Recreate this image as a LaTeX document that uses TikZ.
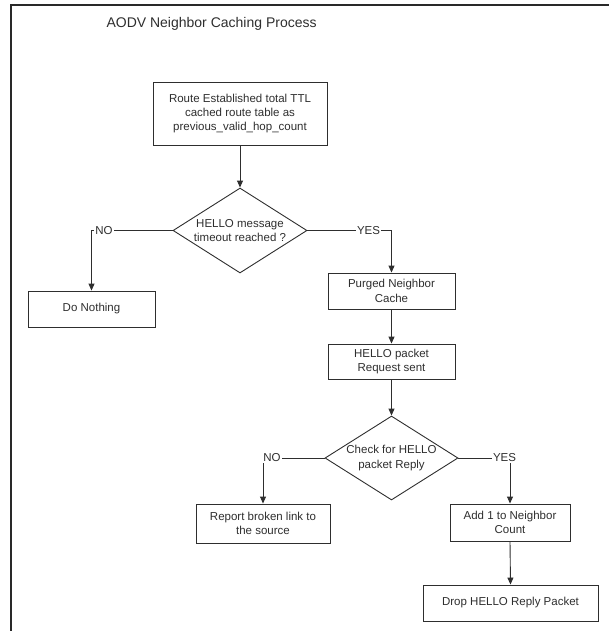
\documentclass[tikz,border=0pt]{standalone}
\usepackage{fontspec}
\setmainfont{Liberation Sans}
\usetikzlibrary{shapes.geometric,arrows.meta}

\definecolor{ink}{HTML}{2E2E2E}

\tikzset{
  base/.style={font=\fontsize{11.5}{14.3}\selectfont, text=ink},
  stepbox/.style={base, draw=ink, line width=0.9pt, rectangle, inner sep=0pt, align=center},
  decision/.style={draw=ink, line width=0.9pt, diamond, inner sep=0pt, aspect=1.58},
  dtext/.style={base, align=center, inner sep=0pt},
  flow/.style={draw=ink, line width=0.9pt, -{Triangle[length=7pt,width=6pt]}},
  branch/.style={base, fill=white, inner sep=1.2pt},
  frame/.style={draw=ink!90!black, line width=1.5pt}
}

\begin{document}
\begin{tikzpicture}[x=1pt, y=-1pt]
  \useasboundingbox (0,0) rectangle (609,631);

  % page frame (top and left edges)
  \coordinate (fa) at (11,631);
  \coordinate (fb) at (11,5);
  \coordinate (fc) at (609,5);
  \draw[frame] (fa) -- (fb) -- (fc);

  % title
  \node[base, font=\fontsize{14}{17}\selectfont, anchor=west] (title) at (103,24) {AODV Neighbor Caching Process};

  % process steps
  \node[stepbox, minimum width=174pt, minimum height=63pt] (route) at (240,113.5)
    {Route Established total TTL\\cached route table as\\previous\_valid\_hop\_count};

  \node[decision, minimum width=134pt, minimum height=85pt] (d1) at (240,230.5) {};
  \node[dtext] (d1t) at (d1.center) {HELLO message\\timeout reached ?};

  \node[stepbox, minimum width=127pt, minimum height=36pt] (nothing) at (91.5,309) {Do Nothing};

  \node[stepbox, minimum width=127pt, minimum height=36pt] (purged) at (391.5,291) {Purged Neighbor\\Cache};

  \node[stepbox, minimum width=127pt, minimum height=35pt] (hello) at (391.5,361.5) {HELLO packet\\Request sent};

  \node[decision, minimum width=133pt, minimum height=84pt] (d2) at (391.5,458) {};
  \node[dtext] (d2t) at (d2.center) {Check for HELLO\\packet Reply};

  \node[stepbox, minimum width=134pt, minimum height=39pt] (report) at (263,523.5) {Report broken link to\\the source};

  \node[stepbox, minimum width=120pt, minimum height=37pt] (add) at (510,522.5) {Add 1 to Neighbor\\Count};

  \node[stepbox, minimum width=175pt, minimum height=36pt] (drop) at (510.5,603) {Drop HELLO Reply Packet};

  % connectors
  \draw[flow] (route.south) -- (d1.north);
  \draw[flow] (d1.west) -| (nothing.north);
  \draw[flow] (d1.east) -| (purged.north);
  \draw[flow] (purged.south) -- (hello.north);
  \draw[flow] (hello.south) -- (d2.north);
  \draw[flow] (d2.west) -| (report.north);
  \draw[flow] (d2.east) -| (add.north);
  \draw[flow] (add.south) -- (drop.north);

  % branch labels
  \node[branch] (no1) at (104,230.5) {NO};
  \node[branch] (yes1) at (368.5,230.5) {YES};
  \node[branch] (no2) at (272,458) {NO};
  \node[branch] (yes2) at (504.5,458) {YES};
\end{tikzpicture}
\end{document}
